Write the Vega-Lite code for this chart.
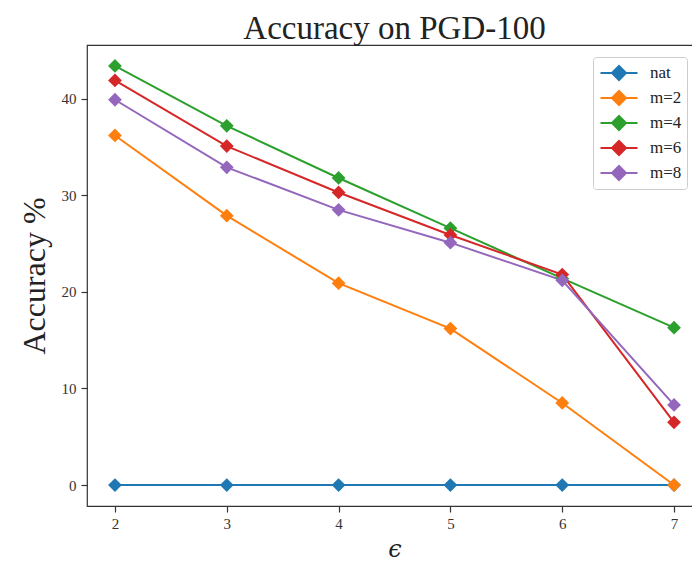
{
  "$schema": "https://vega.github.io/schema/vega-lite/v6.json",
  "autosize": "none",
  "padding": {"left": 87, "top": 45, "right": 0, "bottom": 64},
  "width": 615,
  "height": 461,
  "background": "white",
  "config": {
    "view": {"stroke": "#333", "strokeWidth": 1.2},
    "font": "Liberation Serif",
    "legend": {"labelFont": "Liberation Serif"}
  },
  "title": {
    "text": "Accuracy on PGD-100",
    "font": "Liberation Serif",
    "fontSize": 33,
    "fontWeight": "normal",
    "color": "#222",
    "offset": 3,
    "dy": 4,
    "anchor": "middle"
  },
  "data": {
    "values": [
      {"eps": 2, "series": "nat", "acc": 0.0},
      {"eps": 3, "series": "nat", "acc": 0.0},
      {"eps": 4, "series": "nat", "acc": 0.0},
      {"eps": 5, "series": "nat", "acc": 0.0},
      {"eps": 6, "series": "nat", "acc": 0.0},
      {"eps": 7, "series": "nat", "acc": 0.0},
      {"eps": 2, "series": "m=2", "acc": 36.2},
      {"eps": 3, "series": "m=2", "acc": 27.9},
      {"eps": 4, "series": "m=2", "acc": 20.9},
      {"eps": 5, "series": "m=2", "acc": 16.2},
      {"eps": 6, "series": "m=2", "acc": 8.5},
      {"eps": 7, "series": "m=2", "acc": 0.0},
      {"eps": 2, "series": "m=4", "acc": 43.4},
      {"eps": 3, "series": "m=4", "acc": 37.2},
      {"eps": 4, "series": "m=4", "acc": 31.8},
      {"eps": 5, "series": "m=4", "acc": 26.6},
      {"eps": 6, "series": "m=4", "acc": 21.4},
      {"eps": 7, "series": "m=4", "acc": 16.3},
      {"eps": 2, "series": "m=6", "acc": 41.9},
      {"eps": 3, "series": "m=6", "acc": 35.1},
      {"eps": 4, "series": "m=6", "acc": 30.3},
      {"eps": 5, "series": "m=6", "acc": 25.9},
      {"eps": 6, "series": "m=6", "acc": 21.8},
      {"eps": 7, "series": "m=6", "acc": 6.5},
      {"eps": 2, "series": "m=8", "acc": 39.9},
      {"eps": 3, "series": "m=8", "acc": 32.9},
      {"eps": 4, "series": "m=8", "acc": 28.5},
      {"eps": 5, "series": "m=8", "acc": 25.1},
      {"eps": 6, "series": "m=8", "acc": 21.2},
      {"eps": 7, "series": "m=8", "acc": 8.3}
    ]
  },
  "mark": {
    "type": "line",
    "strokeWidth": 2,
    "point": {"shape": "diamond", "size": 190, "filled": true, "opacity": 1}
  },
  "encoding": {
    "x": {
      "field": "eps",
      "type": "quantitative",
      "scale": {"domain": [1.75, 7.25], "nice": false, "zero": false},
      "axis": {
        "title": "ϵ",
        "values": [2, 3, 4, 5, 6, 7],
        "grid": false,
        "domain": false,
        "tickColor": "#333",
        "tickSize": 6,
        "tickWidth": 1.2,
        "labelFont": "Liberation Serif",
        "labelFontSize": 15,
        "labelColor": "#333",
        "labelPadding": 4,
        "titleFont": "DejaVu Serif",
        "titleFontStyle": "italic",
        "titleFontWeight": "normal",
        "titleFontSize": 24,
        "titleColor": "#222",
        "titlePadding": 6
      }
    },
    "y": {
      "field": "acc",
      "type": "quantitative",
      "scale": {"domain": [-2.17, 45.57], "nice": false, "zero": false},
      "axis": {
        "title": "Accuracy %",
        "values": [0, 10, 20, 30, 40],
        "grid": false,
        "domain": false,
        "tickColor": "#333",
        "tickSize": 6,
        "tickWidth": 1.2,
        "labelFont": "Liberation Serif",
        "labelFontSize": 15,
        "labelColor": "#333",
        "labelPadding": 5,
        "titleFont": "Liberation Serif",
        "titleFontWeight": "normal",
        "titleFontSize": 32,
        "titleColor": "#222",
        "titlePadding": 10
      }
    },
    "color": {
      "field": "series",
      "type": "nominal",
      "sort": ["nat", "m=2", "m=4", "m=6", "m=8"],
      "scale": {
        "domain": ["nat", "m=2", "m=4", "m=6", "m=8"],
        "range": ["#1f77b4", "#ff7f0e", "#2ca02c", "#d62728", "#9467bd"]
      },
      "legend": {
        "title": null,
        "orient": "none",
        "legendX": 506,
        "legendY": 12,
        "symbolType": "M-1.85,0H1.85M-0.7,0L0,-0.7L0.7,0L0,0.7Z",
        "symbolSize": 400,
        "symbolOffset": 10,
        "symbolStrokeWidth": 2,
        "labelFont": "Liberation Serif",
        "labelFontSize": 17,
        "labelColor": "#222",
        "labelOffset": 20,
        "strokeColor": "#ccc",
        "fillColor": "white",
        "padding": 5,
        "cornerRadius": 3,
        "rowPadding": 3,
        "encode": {
          "symbols": {
            "update": {
              "fill": {"scale": "color", "field": "value"},
              "stroke": {"scale": "color", "field": "value"},
              "opacity": {"value": 1}
            }
          },
          "labels": {
            "update": {
              "font": {"value": "Liberation Serif"}
            }
          }
        }
      }
    }
  }
}
